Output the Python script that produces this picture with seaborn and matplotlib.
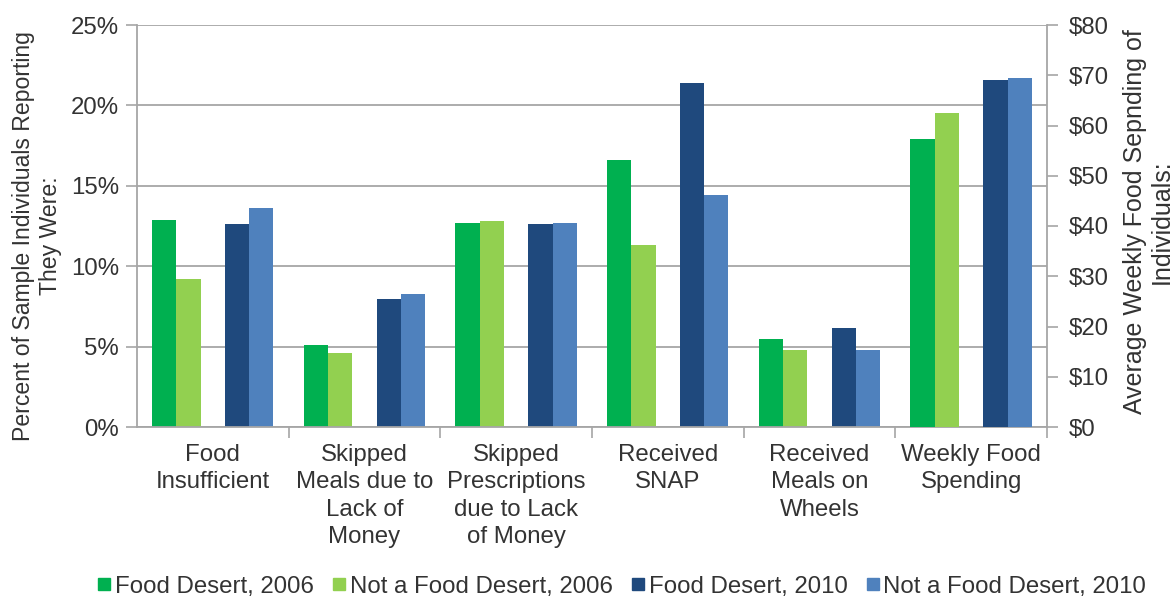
import matplotlib
matplotlib.use("Agg")
import matplotlib.pyplot as plt
import seaborn as sns
import pandas as pd
from matplotlib.lines import Line2D
from matplotlib.ticker import FixedLocator

# ---------------- data ----------------
categories = [
    "Food\nInsufficient",
    "Skipped\nMeals due to\nLack of\nMoney",
    "Skipped\nPrescriptions\ndue to Lack\nof Money",
    "Received\nSNAP",
    "Received\nMeals on\nWheels",
    "Weekly Food\nSpending",
]
series = ["Food Desert, 2006", "Not a Food Desert, 2006",
          "Food Desert, 2010", "Not a Food Desert, 2010"]
# first five categories in percent (left axis), last in dollars (right axis)
fd_2006 = [12.9, 5.1, 12.7, 16.6, 5.45, 57.3]
nfd_2006 = [9.2, 4.6, 12.8, 11.3, 4.8, 62.4]
fd_2010 = [12.6, 7.95, 12.6, 21.4, 6.15, 69.0]
nfd_2010 = [13.6, 8.3, 12.7, 14.45, 4.8, 69.5]

pct_ticks = [0, 5, 10, 15, 20, 25]
pct_labels = ["0%", "5%", "10%", "15%", "20%", "25%"]
usd_ticks = [0, 10, 20, 30, 40, 50, 60, 70, 80]
usd_labels = [r"\$0", r"\$10", r"\$20", r"\$30", r"\$40", r"\$50", r"\$60", r"\$70", r"\$80"]

colors = ["#00B050", "#92D050", "#1F497D", "#4F81BD"]
left_label = "Percent of Sample Individuals Reporting\nThey Were:"
right_label = "Average Weekly Food Sepnding of\nIndividuals:"

# ---------------- build table ----------------
rows = []
for s, vals in zip(series, [fd_2006, nfd_2006, fd_2010, nfd_2010]):
    for c, v in zip(categories, vals):
        rows.append({"cat": c, "series": s, "value": v})
df = pd.DataFrame(rows)

spacer = " "
hue_order = [series[0], series[1], spacer, series[2], series[3]]
palette = {series[0]: colors[0], series[1]: colors[1], spacer: "white",
           series[2]: colors[2], series[3]: colors[3]}

plt.rcParams["font.family"] = ["Liberation Sans", "DejaVu Sans"]
text_color = "#333333"
grid_color = "#A6A6A6"
fs = 17.3

fig = plt.figure(figsize=(11.76, 6.05), dpi=100)
ax = fig.add_axes([137 / 1176, 1 - 427 / 605, (1047 - 137) / 1176, (427 - 25) / 605])
ax2 = ax.twinx()

left_df = df[df["cat"] != categories[-1]]
right_df = df[df["cat"] == categories[-1]]

common = dict(x="cat", y="value", hue="series", order=categories,
              hue_order=hue_order, palette=palette, errorbar=None,
              width=0.80, linewidth=0, saturation=1, legend=False)
sns.barplot(data=left_df, ax=ax, **common)
sns.barplot(data=right_df, ax=ax2, **common)

for a in (ax, ax2):
    a.set_xlabel("")
    a.set_ylabel("")
    a.set_xlim(-0.5, len(categories) - 0.5)

ax.set_ylim(0, 25)
ax2.set_ylim(0, 80)
ax.set_yticks(pct_ticks)
ax.set_yticklabels(pct_labels)
ax2.set_yticks(usd_ticks)
ax2.set_yticklabels(usd_labels)

ax.set_xticks(range(len(categories)))
ax.set_xticklabels(categories, linespacing=1.32)
ax.xaxis.set_minor_locator(FixedLocator([i + 0.5 for i in range(len(categories))]))
ax.tick_params(axis="x", which="major", length=0, pad=12, labelsize=fs, labelcolor=text_color)
ax.tick_params(axis="x", which="minor", length=8, width=1.2, color=grid_color, direction="out")
ax.tick_params(axis="y", length=8, width=1.2, color=grid_color, labelsize=fs,
               labelcolor=text_color, pad=5)
ax2.tick_params(axis="y", length=8, width=1.2, color=grid_color, labelsize=fs,
                labelcolor=text_color, pad=8)

ax.yaxis.grid(True, color=grid_color, linewidth=1.3)
ax.xaxis.grid(False)
ax.set_axisbelow(True)

for a in (ax, ax2):
    a.spines["top"].set_visible(False)
ax.spines["right"].set_visible(False)
ax2.spines["left"].set_visible(False)
ax2.spines["bottom"].set_visible(False)
for sp in ("left", "bottom"):
    ax.spines[sp].set_color(grid_color)
    ax.spines[sp].set_linewidth(1.3)
ax2.spines["right"].set_color(grid_color)
ax2.spines["right"].set_linewidth(1.3)

fig.text(37 / 1176, 1 - 236 / 605, left_label, rotation=90, ha="center", va="center",
         multialignment="center", fontsize=16.6, color=text_color, linespacing=1.2)
fig.text(1148 / 1176, 1 - 222 / 605, right_label, rotation=90, ha="center", va="center",
         multialignment="center", fontsize=18.0, color=text_color, linespacing=1.15)

handles = [Line2D([0], [0], marker="s", linestyle="none", markersize=8,
                  markerfacecolor=c, markeredgecolor=c) for c in colors]
fig.legend(handles, series, loc="center", bbox_to_anchor=(0.529, 0.03), ncol=4,
           frameon=False, fontsize=fs, handletextpad=0.2, columnspacing=0.8,
           handlelength=0.5, labelcolor=text_color)

fig.savefig("out.png", dpi=100)
